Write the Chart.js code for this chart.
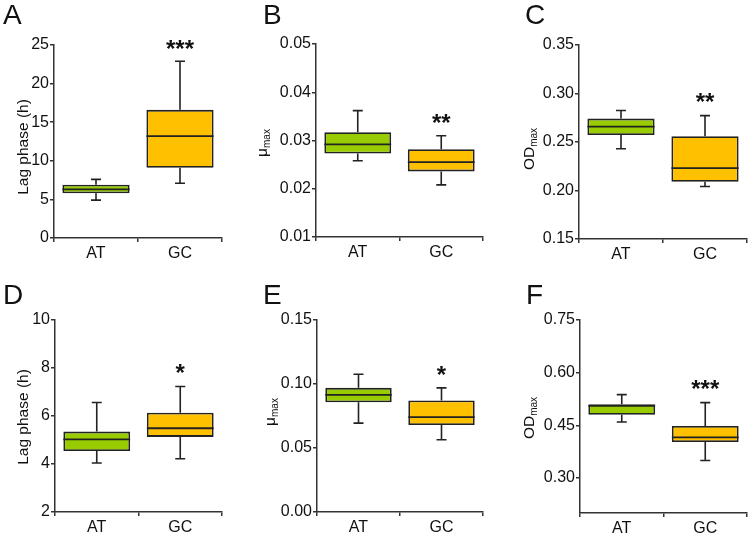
<!DOCTYPE html>
<html>
<head>
<meta charset="utf-8">
<script src="https://cdn.jsdelivr.net/npm/chart.js@4/dist/chart.umd.min.js"></script>
<style>
  body { margin: 0; background: #fff; }
  #wrap { position: relative; width: 750px; height: 533px; overflow: hidden; font-family: "Liberation Sans", Arial, sans-serif; color: #111; }
  #wrap canvas { position: absolute; left: 0; top: 0; }
  .letter { position: absolute; font-size: 28px; line-height: 28px; }
  .ytitle { position: absolute; font-size: 15.5px; line-height: 16px; white-space: nowrap; transform: translate(-50%, -50%) rotate(-90deg); }
  .ytitle sub { font-size: 10px; vertical-align: -3px; }
</style>
</head>
<body>
<div id="wrap">
  <canvas id="cA" width="750" height="533"></canvas>
  <canvas id="cB" width="750" height="533"></canvas>
  <canvas id="cC" width="750" height="533"></canvas>
  <canvas id="cD" width="750" height="533"></canvas>
  <canvas id="cE" width="750" height="533"></canvas>
  <canvas id="cF" width="750" height="533"></canvas>

  <div class="letter" style="left:3px;top:1px">A</div>
  <div class="letter" style="left:263px;top:1px">B</div>
  <div class="letter" style="left:525px;top:1px">C</div>
  <div class="letter" style="left:3px;top:281px">D</div>
  <div class="letter" style="left:263px;top:281px">E</div>
  <div class="letter" style="left:526px;top:281px">F</div>

  <div class="ytitle" style="left:23px;top:147px">Lag phase (h)</div>
  <div class="ytitle" style="left:264px;top:143px">μ<sub>max</sub></div>
  <div class="ytitle" style="left:531px;top:149px">OD<sub>max</sub></div>
  <div class="ytitle" style="left:23px;top:417px">Lag phase (h)</div>
  <div class="ytitle" style="left:272px;top:412px">μ<sub>max</sub></div>
  <div class="ytitle" style="left:531px;top:418px">OD<sub>max</sub></div>
</div>

<script>
'use strict';

const groups = ['AT', 'GC'];
const boxColors = ['#99CC00', '#FFC000'];

// five-number summaries: [min, q1, median, q3, max]
const lagA_AT = [4.9, 5.8, 6.3, 6.9, 7.6];
const lagA_GC = [7.1, 9.1, 13.2, 16.6, 22.9];
const muB_AT = [0.0258, 0.0273, 0.0292, 0.0317, 0.0362];
const muB_GC = [0.0208, 0.0236, 0.0255, 0.0282, 0.0310];
const odC_AT = [0.2431, 0.2572, 0.2659, 0.2741, 0.2824];
const odC_GC = [0.2041, 0.2090, 0.2231, 0.2559, 0.2772];
const lagD_AT = [4.04, 4.54, 5.03, 5.35, 6.56];
const lagD_GC = [4.22, 5.13, 5.49, 6.14, 7.23];
const muE_AT = [0.0694, 0.0858, 0.0915, 0.0970, 0.1076];
const muE_GC = [0.0564, 0.0679, 0.0741, 0.0871, 0.0970];
const odF_AT = [0.4595, 0.4802, 0.5050, 0.5098, 0.5374];
const odF_GC = [0.3496, 0.4020, 0.4154, 0.4480, 0.5145];

// y tick labels
const ticksA = [0, 5, 10, 15, 20, 25];
const ticksB = [0.01, 0.02, 0.03, 0.04, 0.05];
const ticksC = [0.15, 0.20, 0.25, 0.30, 0.35];
const ticksD = [2, 4, 6, 8, 10];
const ticksE = [0.00, 0.05, 0.10, 0.15];
const ticksF = [0.30, 0.45, 0.60, 0.75];

// significance marks over GC: [text, value at glyph centre]
const starsA = ['***', 25.2];
const starsB = ['**', 0.0348];
const starsC = ['**', 0.297];
const starsD = ['*', 8.04];
const starsE = ['*', 0.1117];
const starsF = ['***', 0.570];

const Y_AXIS_W = 50;
const X_AXIS_H = 25;

// id, data, ticks, y range, decimals, stars, plot area [left, top, right, bottom]
const panels = [
  { id: 'cA', at: lagA_AT, gc: lagA_GC, ticks: ticksA, min: 0, max: 25, dec: 0, stars: starsA, area: [54, 45, 222, 238] },
  { id: 'cB', at: muB_AT, gc: muB_GC, ticks: ticksB, min: 0.01, max: 0.05, dec: 2, stars: starsB, area: [316, 44, 483, 237] },
  { id: 'cC', at: odC_AT, gc: odC_GC, ticks: ticksC, min: 0.15, max: 0.35, dec: 2, stars: starsC, area: [579, 45, 747, 239] },
  { id: 'cD', at: lagD_AT, gc: lagD_GC, ticks: ticksD, min: 2, max: 10, dec: 0, stars: starsD, area: [55, 320, 222, 512] },
  { id: 'cE', at: muE_AT, gc: muE_GC, ticks: ticksE, min: 0, max: 0.15, dec: 2, stars: starsE, area: [317, 320, 483, 512] },
  { id: 'cF', at: odF_AT, gc: odF_GC, ticks: ticksF, min: 0.2, max: 0.75, dec: 2, stars: starsF, area: [580, 320, 747, 513] }
];

// whiskers, medians and stars drawn from the chart's own scales
const boxPlotExtras = {
  id: 'boxPlotExtras',
  afterDatasetsDraw(chart, args, opts) {
    const ctx = chart.ctx;
    const x = chart.scales.x;
    const y = chart.scales.y;
    const bars = chart.getDatasetMeta(0).data;
    ctx.save();
    ctx.strokeStyle = '#222';
    ctx.lineCap = 'butt';
    opts.summaries.forEach((s, i) => {
      const cx = x.getPixelForValue(i);
      const half = bars[i].width / 2;
      const cap = 5;
      ctx.lineWidth = 1.6;
      ctx.beginPath();
      // upper whisker
      ctx.moveTo(cx, y.getPixelForValue(s[3]));
      ctx.lineTo(cx, y.getPixelForValue(s[4]));
      ctx.moveTo(cx - cap, y.getPixelForValue(s[4]));
      ctx.lineTo(cx + cap, y.getPixelForValue(s[4]));
      // lower whisker
      ctx.moveTo(cx, y.getPixelForValue(s[1]));
      ctx.lineTo(cx, y.getPixelForValue(s[0]));
      ctx.moveTo(cx - cap, y.getPixelForValue(s[0]));
      ctx.lineTo(cx + cap, y.getPixelForValue(s[0]));
      ctx.stroke();
      // median
      ctx.lineWidth = 1.8;
      ctx.beginPath();
      ctx.moveTo(cx - half, y.getPixelForValue(s[2]));
      ctx.lineTo(cx + half, y.getPixelForValue(s[2]));
      ctx.stroke();
    });
    ctx.fillStyle = '#111';
    ctx.font = 'bold 24px "Liberation Sans", Arial, sans-serif';
    ctx.textAlign = 'center';
    ctx.textBaseline = 'alphabetic';
    const sy = y.getPixelForValue(opts.stars[1]);
    ctx.fillText(opts.stars[0], x.getPixelForValue(1), sy + 13.5);
    ctx.restore();
  }
};

function makePanel(p) {
  const ctx = document.getElementById(p.id).getContext('2d');
  const summaries = [p.at, p.gc];
  const [left, top, right, bottom] = p.area;
  return new Chart(ctx, {
    type: 'bar',
    data: {
      labels: groups,
      datasets: [{
        data: summaries.map(s => [s[1], s[3]]),
        backgroundColor: boxColors,
        borderColor: '#222',
        borderWidth: 1.8,
        borderSkipped: false,
        barPercentage: 0.8,
        categoryPercentage: 1
      }]
    },
    options: {
      responsive: false,
      animation: false,
      events: [],
      layout: {
        padding: { left: left - Y_AXIS_W, top: top, right: 750 - right, bottom: 533 - bottom - X_AXIS_H }
      },
      plugins: {
        legend: { display: false },
        tooltip: { enabled: false },
        boxPlotExtras: { summaries: summaries, stars: p.stars }
      },
      scales: {
        x: {
          offset: true,
          grid: { drawOnChartArea: false, tickLength: 4, color: '#333', lineWidth: 1.5 },
          border: { color: '#333', width: 1.5 },
          ticks: { color: '#111', padding: 2, font: { family: '"Liberation Sans", Arial, sans-serif', size: 16 } },
          afterFit: s => { s.height = X_AXIS_H; }
        },
        y: {
          min: p.min,
          max: p.max,
          grid: { drawOnChartArea: false, tickLength: 4, color: '#333', lineWidth: 1.5 },
          border: { color: '#333', width: 1.5 },
          ticks: {
            color: '#111',
            padding: 1,
            font: { family: '"Liberation Sans", Arial, sans-serif', size: 16 },
            callback: v => Number(v).toFixed(p.dec)
          },
          afterBuildTicks: s => { s.ticks = p.ticks.map(v => ({ value: v })); },
          afterFit: s => { s.width = Y_AXIS_W; }
        }
      }
    },
    plugins: [boxPlotExtras]
  });
}

panels.forEach(makePanel);
</script>
</body>
</html>
